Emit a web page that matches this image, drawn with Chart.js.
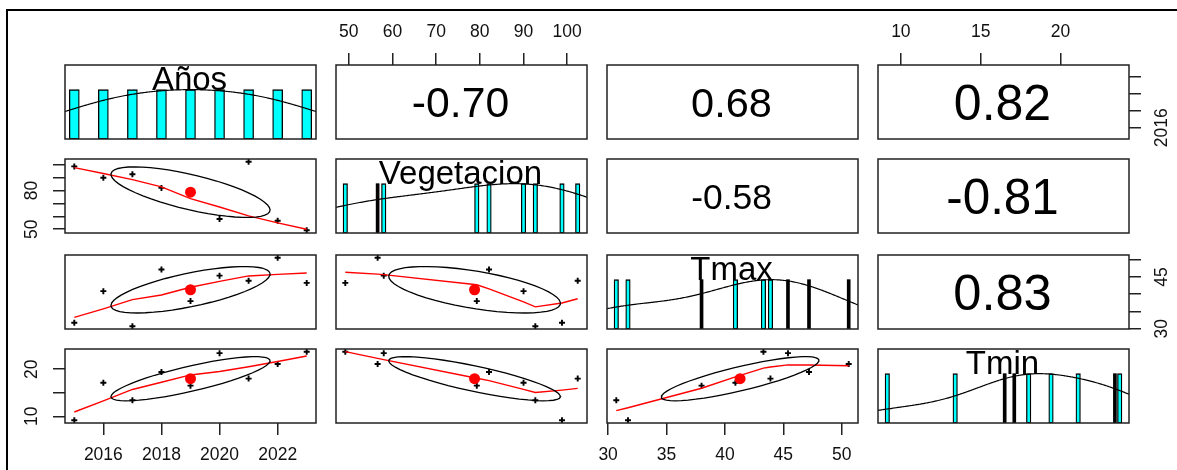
<!DOCTYPE html>
<html><head><meta charset="utf-8">
<script src="https://cdn.jsdelivr.net/npm/chart.js@4.4.1/dist/chart.umd.min.js"></script>
<style>
html,body{margin:0;padding:0;background:#fff;}
#wrap{position:relative;width:1177px;height:470px;overflow:hidden;background:#fff;}
#frame{position:absolute;left:6px;top:9px;width:1400px;height:800px;border-left:2px solid #000;border-top:2px solid #000;box-sizing:border-box;}
#wrap canvas{position:absolute;}
</style></head>
<body><div id="wrap"><div id="frame"></div></div>
<script>
// ---------------- data ----------------
const years      = [2015, 2016, 2017, 2018, 2019, 2020, 2021, 2022, 2023];
const vegetacion = [98.8, 90.0, 92.7, 82.1, 79.3, 58.0, 102.4, 56.6, 49.2];
const tmax       = [31.7, 40.9, 30.7, 47.2, 38.0, 45.4, 43.9, 50.6, 43.3];
const tmin       = [9.15, 17.1, 13.4, 19.4, 16.5, 23.4, 18.0, 21.1, 23.7];
const varNames   = ['Años', 'Vegetacion', 'Tmax', 'Tmin'];
// correlations printed in the upper panels: (1,2) (1,3) (1,4) (2,3) (2,4) (3,4)
const corrLabels = ['-0.70', '0.68', '0.82', '-0.58', '-0.81', '0.83'];
// axis ticks
const yearTicks = [2016, 2018, 2020, 2022];
const vegTicks  = [50, 60, 70, 80, 90, 100];
const tmaxTicks = [30, 35, 40, 45, 50];
const tminTicks = [10, 15, 20];
const yearLabelsBottom = ['2016', '2018', '2020', '2022'];
const yearLabelsRight  = ['2016', '', '', ''];
const vegLabelsTop     = ['50', '60', '70', '80', '90', '100'];
const vegLabelsLeft    = ['50', '', '', '80', '', ''];
const tmaxLabelsBottom = ['30', '35', '40', '45', '50'];
const tmaxLabelsRight  = ['30', '', '', '45', ''];
const tminLabelsTop    = ['10', '15', '20'];
const tminLabelsLeft   = ['10', '', '20'];

// ---------------- styling / layout ----------------
const FONT = '"Liberation Sans", Arial, Helvetica, sans-serif';
Chart.defaults.font.family = FONT;
Chart.defaults.color = '#111';
const vars = [years, vegetacion, tmax, tmin];
const tickVals = [yearTicks, vegTicks, tmaxTicks, tminTicks];
const tickLabels = [
  {bottom: yearLabelsBottom, right: yearLabelsRight},
  {top: vegLabelsTop, left: vegLabelsLeft},
  {bottom: tmaxLabelsBottom, right: tmaxLabelsRight},
  {top: tminLabelsTop, left: tminLabelsLeft}
];
const darkBarIdx = [[], [7], [3, 4, 5, 7], [1, 4, 5]];
const barWidth = [10, 4.5, 4.5, 4.5];
const M = 50, PW = 251, PH = 74;
const colLeft = [65, 336, 607, 878];
const rowTop = [65, 159, 255, 349];
const TICK_FONT = 17.5, TICK_LEN = 12;

// ---------------- statistics (as R / psych::pairs.panels) ----------------
const mean = a => a.reduce((s, v) => s + v, 0) / a.length;
const sd = a => { const m = mean(a); return Math.sqrt(a.reduce((s, v) => s + (v - m) * (v - m), 0) / (a.length - 1)); };
const cor = (a, b) => { const ma = mean(a), mb = mean(b); let sab = 0, saa = 0, sbb = 0;
  for (let k = 0; k < a.length; k++) { sab += (a[k]-ma)*(b[k]-mb); saa += (a[k]-ma)**2; sbb += (b[k]-mb)**2; }
  return sab / Math.sqrt(saa * sbb); };
function q7(a, p) { const s = [...a].sort((x, y) => x - y); const h = (s.length - 1) * p; const lo = Math.floor(h);
  return s[lo] + (h - lo) * (s[Math.min(lo + 1, s.length - 1)] - s[lo]); }
function rangeOf(a) { const lo = Math.min(...a), hi = Math.max(...a), d = (hi - lo) * 0.04; return [lo - d, hi + d]; }
function densityLine(a) {
  const bw = 1.2 * 1.06 * Math.min(sd(a), (q7(a, .75) - q7(a, .25)) / 1.34) * Math.pow(a.length, -0.2);
  const lo = Math.min(...a) - 3 * bw, hi = Math.max(...a) + 3 * bw, pts = [];
  for (let k = 0; k < 512; k++) { const x = lo + (hi - lo) * k / 511; let s = 0;
    for (const v of a) s += Math.exp(-0.5 * ((x - v) / bw) ** 2); pts.push({x, y: s}); }
  const mx = Math.max(...pts.map(p => p.y)); pts.forEach(p => p.y /= mx); return pts;
}
function lowess(xIn, yIn, f = 2 / 3, iter = 3) {
  const n = xIn.length; const idx = [...Array(n).keys()].sort((a, b) => xIn[a] - xIn[b]);
  const x = idx.map(k => xIn[k]), y = idx.map(k => yIn[k]);
  const range = x[n - 1] - x[0], delta = 0.01 * range;
  const ys = new Array(n).fill(0), rw = new Array(n).fill(1), res = new Array(n).fill(0);
  const ns = Math.max(2, Math.min(n, Math.floor(f * n + 1e-7)));
  function lowest(xs, nleft, nright, userw) {
    const h = Math.max(xs - x[nleft], x[nright] - xs), h9 = 0.999 * h, h1 = 0.001 * h;
    const w = new Array(n).fill(0); let a = 0, j = nleft;
    while (j < n) { w[j] = 0; const r = Math.abs(x[j] - xs);
      if (r <= h9) { w[j] = r <= h1 ? 1 : Math.pow(1 - Math.pow(r / h, 3), 3); if (userw) w[j] *= rw[j]; a += w[j]; }
      else if (x[j] > xs) break; j++; }
    const nrt = j - 1; if (a <= 0) return null;
    for (let k = nleft; k <= nrt; k++) w[k] /= a;
    if (h > 0) { a = 0; for (let k = nleft; k <= nrt; k++) a += w[k] * x[k];
      let b = xs - a, c = 0; for (let k = nleft; k <= nrt; k++) c += w[k] * (x[k] - a) ** 2;
      if (Math.sqrt(c) > 0.001 * range) { b /= c; for (let k = nleft; k <= nrt; k++) w[k] *= (b * (x[k] - a) + 1); } }
    let s = 0; for (let k = nleft; k <= nrt; k++) s += w[k] * y[k]; return s;
  }
  for (let it = 1; it <= iter + 1; it++) {
    let nleft = 0, nright = ns - 1, last = -1, i = 0;
    for (;;) {
      if (nright < n - 1) { const d1 = x[i] - x[nleft], d2 = x[nright + 1] - x[i]; if (d1 > d2) { nleft++; nright++; continue; } }
      const v = lowest(x[i], nleft, nright, it > 1); ys[i] = v === null ? y[i] : v;
      if (last >= 0 && last < i - 1) { const den = x[i] - x[last];
        for (let j = last + 1; j < i; j++) { const al = (x[j] - x[last]) / den; ys[j] = al * ys[i] + (1 - al) * ys[last]; } }
      last = i; const cut = x[last] + delta;
      for (i = last + 1; i < n; i++) { if (x[i] > cut) break; if (x[i] === x[last]) { ys[i] = ys[last]; last = i; } }
      i = Math.max(last + 1, i - 1); if (last >= n - 1) break;
    }
    for (let k = 0; k < n; k++) res[k] = y[k] - ys[k];
    let sc = 0; for (let k = 0; k < n; k++) sc += Math.abs(res[k]); sc /= n;
    if (it > iter) break;
    const srt = res.map(Math.abs).sort((a, b) => a - b); const m1 = Math.floor(n / 2);
    const cmad = n % 2 === 0 ? 3 * (srt[m1] + srt[n - m1 - 1]) : 6 * srt[m1];
    if (cmad < 1e-7 * sc) break; const c9 = 0.999 * cmad, c1 = 0.001 * cmad;
    for (let k = 0; k < n; k++) { const r = Math.abs(res[k]); rw[k] = r <= c1 ? 1 : r <= c9 ? (1 - (r / cmad) ** 2) ** 2 : 0; }
  }
  return x.map((xv, k) => ({x: xv, y: ys[k]}));
}
function ellipse(xa, ya) {
  const r = cor(xa, ya), xm = mean(xa), ym = mean(ya), xs = sd(xa), yss = sd(ya);
  const th = (r !== 0 ? Math.sign(r) : 1) / Math.SQRT2, a1 = Math.sqrt(1 + r), a2 = Math.sqrt(1 - r), pts = [];
  for (let k = 0; k <= 51; k++) { const t = k * 2 * Math.PI / 51, c = Math.cos(t), s = Math.sin(t);
    pts.push({x: (c * a1 * th - s * a2 * th) * xs + xm, y: (c * a1 * th + s * a2 * th) * yss + ym}); }
  return pts;
}

// ---------------- drawing ----------------
const mctx = document.createElement('canvas').getContext('2d');
mctx.font = TICK_FONT + 'px ' + FONT;
function axisCfg(v, side, min, max, isY) {
  const vals = tickVals[v];
  const labs = (side && tickLabels[v][side]) || vals.map(() => '');
  let pad = 10;
  if (isY && side) { const widest = Math.max(...labs.map(l => mctx.measureText(l).width));
    pad = (side === 'right' ? 21 : 20.5) - widest / 2; }
  return {
    type: 'linear', min, max, offset: false, display: !!side,
    position: side || (isY ? 'left' : 'bottom'),
    grid: {display: true, drawOnChartArea: false, drawTicks: true, tickLength: TICK_LEN, color: '#222', lineWidth: 1.5, offset: false},
    border: {display: false},
    ticks: {autoSkip: false, font: {size: TICK_FONT}, color: '#111', padding: pad,
      minRotation: isY ? 90 : 0, maxRotation: isY ? 90 : 0, crossAlign: isY ? 'center' : 'near',
      callback: (val) => { const k = vals.indexOf(val); return k < 0 ? '' : labs[k]; }},
    afterBuildTicks: s => { s.ticks = vals.map(t => ({value: t})); },
    afterFit: s => { if (side) { if (isY) s.width = M; else s.height = M; } }
  };
}
const wrap = document.getElementById('wrap');
let corrK = 0;
const corrIndex = {};
for (let i = 0; i < 4; i++) for (let j = i + 1; j < 4; j++) corrIndex[i + ',' + j] = corrK++;

for (let i = 0; i < 4; i++) {
  for (let j = 0; j < 4; j++) {
    const cv = document.createElement('canvas');
    cv.width = PW + 2 * M; cv.height = PH + 2 * M;
    cv.style.left = (colLeft[j] - M) + 'px'; cv.style.top = (rowTop[i] - M) + 'px';
    cv.style.width = cv.width + 'px'; cv.style.height = cv.height + 'px';
    wrap.appendChild(cv);
    const top = (i === 0 && j % 2 === 1) ? 'top' : null;
    const bottom = (i === 3 && j % 2 === 0) ? 'bottom' : null;
    const left = (j === 0 && i % 2 === 1) ? 'left' : null;
    const right = (j === 3 && i % 2 === 0) ? 'right' : null;
    const xr = rangeOf(vars[j]);
    const yr = i === j ? [0, 1.5] : rangeOf(vars[i]);
    const datasets = [];
    if (i === j) {
      const a = vars[i];
      datasets.push({type: 'line', data: densityLine(a), borderColor: '#000', borderWidth: 1.2, pointRadius: 0, tension: 0});
      datasets.push({type: 'bar', data: a.filter((_, k) => darkBarIdx[i].includes(k)).map(v => ({x: v, y: 1})),
        backgroundColor: '#000', borderColor: '#000', borderWidth: 0, barThickness: 3, borderSkipped: false, grouped: false});
      datasets.push({type: 'bar', data: a.filter((_, k) => !darkBarIdx[i].includes(k)).map(v => ({x: v, y: 1})),
        backgroundColor: '#00FFFF', borderColor: '#000', borderWidth: 1.3, barThickness: barWidth[i], borderSkipped: false, grouped: false});
    } else if (i > j) {
      const xa = vars[j], ya = vars[i];
      datasets.push({type: 'scatter', data: [{x: mean(xa), y: mean(ya)}], pointRadius: 5.5, pointStyle: 'circle',
        backgroundColor: '#FF0000', borderColor: '#FF0000', borderWidth: 0});
      datasets.push({type: 'line', data: ellipse(xa, ya), borderColor: '#000', borderWidth: 1.3, pointRadius: 0, tension: 0});
      datasets.push({type: 'line', data: lowess(xa, ya), borderColor: '#FF0000', borderWidth: 1.4, pointRadius: 0, tension: 0});
      datasets.push({type: 'scatter', data: xa.map((v, k) => ({x: v, y: ya[k]})), pointStyle: 'cross',
        pointRadius: 3, borderColor: '#000', borderWidth: 1.9});
    }
    const panelPlugin = {
      id: 'panel' + i + j,
      afterDatasetsDraw(chart) {
        const ca = chart.chartArea, ctx = chart.ctx; ctx.save();
        ctx.fillStyle = '#000';
        if (i === j) {
          ctx.font = '33px ' + FONT; ctx.textAlign = 'center'; ctx.textBaseline = 'alphabetic';
          ctx.fillText(varNames[i], (ca.left + ca.right) / 2 - 1, ca.top + 25);
        } else if (i < j) {
          const txt = corrLabels[corrIndex[i + ',' + j]];
          const size = 61 * Math.abs(parseFloat(txt));
          ctx.font = size.toFixed(1) + 'px ' + FONT; ctx.textAlign = 'center'; ctx.textBaseline = 'alphabetic';
          ctx.fillText(txt, (ca.left + ca.right) / 2 - 1, (ca.top + ca.bottom) / 2 + 0.358 * size);
        }
        ctx.strokeStyle = '#222'; ctx.lineWidth = 1.5;
        ctx.strokeRect(ca.left, ca.top, ca.right - ca.left, ca.bottom - ca.top);
        ctx.restore();
      }
    };
    new Chart(cv, {
      type: 'scatter',
      data: {datasets},
      options: {
        responsive: false, animation: false, devicePixelRatio: 1,
        layout: {padding: {left: left ? 0 : M, right: right ? 0 : M, top: top ? 0 : M, bottom: bottom ? 0 : M}},
        plugins: {legend: {display: false}, tooltip: {enabled: false}},
        scales: {
          x: axisCfg(j, top || bottom, xr[0], xr[1], false),
          y: axisCfg(i, left || right, yr[0], yr[1], true)
        }
      },
      plugins: [panelPlugin]
    });
  }
}
</script>
</body></html>
